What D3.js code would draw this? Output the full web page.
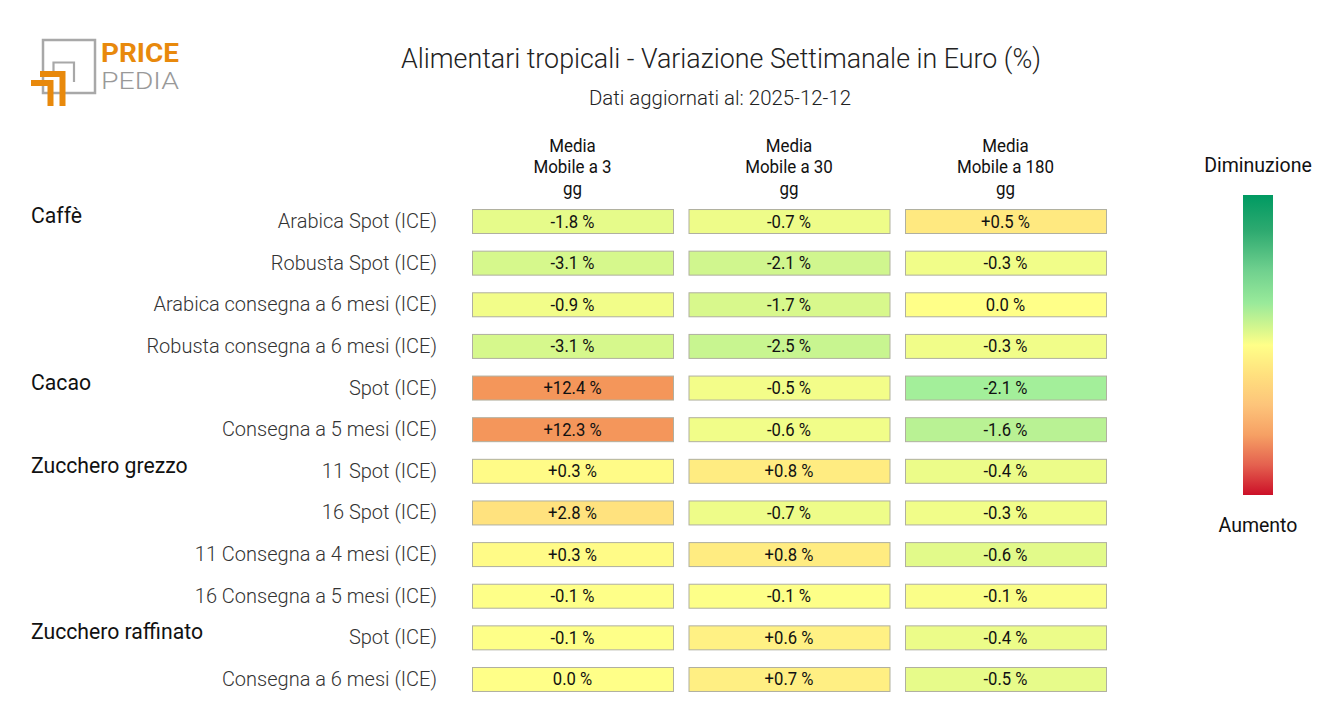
<!DOCTYPE html>
<html><head><meta charset="utf-8">
<script src="https://cdn.jsdelivr.net/npm/d3@7"></script>
<style>
html,body{margin:0;padding:0;background:#fff;}
svg{display:block;font-family:Roboto,"Noto Sans",sans-serif;}
</style></head>
<body>
<svg id="chart" width="1320" height="720"></svg>
<script>
const title = "Alimentari tropicali - Variazione Settimanale in Euro (%)";
const subtitle = "Dati aggiornati al: 2025-12-12";
const columnHeaders = [["Media","Mobile a 3","gg"],["Media","Mobile a 30","gg"],["Media","Mobile a 180","gg"]];
const groups = ["Caffè","Cacao","Zucchero grezzo","Zucchero raffinato"];
const groupStartRow = [0,4,6,10];
const rowLabels = ["Arabica Spot (ICE)","Robusta Spot (ICE)","Arabica consegna a 6 mesi (ICE)","Robusta consegna a 6 mesi (ICE)",
  "Spot (ICE)","Consegna a 5 mesi (ICE)",
  "11 Spot (ICE)","16 Spot (ICE)","11 Consegna a 4 mesi (ICE)","16 Consegna a 5 mesi (ICE)",
  "Spot (ICE)","Consegna a 6 mesi (ICE)"];
const ma3   = [-1.8,-3.1,-0.9,-3.1,12.4,12.3,0.3,2.8,0.3,-0.1,-0.1,0.0];
const ma30  = [-0.7,-2.1,-1.7,-2.5,-0.5,-0.6,0.8,-0.7,0.8,-0.1,0.6,0.7];
const ma180 = [0.5,-0.3,0.0,-0.3,-2.1,-1.6,-0.4,-0.3,-0.6,-0.1,-0.4,-0.5];
const legendTop = "Diminuzione", legendBottom = "Aumento";

const series = [ma3, ma30, ma180];
const colExtent = [26, 15, 7.5];   // colour scale half-range of each column

// normalized colour scale (t in [-1,1]; negative = decrease = green)
const cellT =     [-1, -0.5, -0.28, -0.16, -0.08, 0, 0.04, 0.06, 0.11, 0.48, 1];
const cellColor = ["#009a62","#6fd48f","#a3ef9a","#caf58f","#e2fa8a","#ffff88","#fff184","#ffea80","#ffe27e","#f4955a","#cc1028"];
const legendOff = [0, 0.12, 0.25, 0.36, 0.44, 0.5, 0.6, 0.7, 0.8, 0.9, 1];
const legendCol = ["#009a62","#2eaa70","#6fd08e","#99ea9a","#d2f68e","#ffff88","#ffe07e","#fdc47a","#f6a064","#e4614f","#cc1028"];

const svg = d3.select("#chart");

// logo
const logo = svg.append("g");
logo.append("rect").attr("x",43).attr("y",40).attr("width",52).attr("height",53)
  .attr("fill","none").attr("stroke","#a8a8a8").attr("stroke-width",2.5);
logo.append("path").attr("d","M53.5,71 V62.5 H74 V82").attr("fill","none").attr("stroke","#a8a8a8").attr("stroke-width",2.2);
logo.append("path").attr("d","M40,71 H65.5 V106 H59.5 V77 H40 Z").attr("fill","#e8890c");
logo.append("path").attr("d","M31,80 H53.5 V106 H47.5 V86 H31 Z").attr("fill","#e8890c");
logo.append("text").attr("x",101).attr("y",62).attr("font-size",26).attr("font-weight",700)
  .attr("fill","#e8890c").attr("textLength",78).attr("lengthAdjust","spacingAndGlyphs").text("PRICE");
logo.append("text").attr("x",101).attr("y",89).attr("font-size",23).attr("font-weight",300)
  .attr("fill","#999").attr("textLength",78).attr("lengthAdjust","spacingAndGlyphs").text("PEDIA");

// titles
svg.append("text").attr("x",721).attr("y",68).attr("text-anchor","middle")
  .attr("font-size",26.8).attr("font-weight",300).attr("fill","#222").text(title);
svg.append("text").attr("x",720).attr("y",105).attr("text-anchor","middle")
  .attr("font-size",20.4).attr("font-weight",300).attr("fill","#222").text(subtitle);

// scales
const x = d3.scaleBand().domain(d3.range(series.length)).range([464.25,1113.75])
  .paddingInner(0.0716).paddingOuter(0.0358);
const y = d3.scaleBand().domain(d3.range(rowLabels.length)).range([200.2,699.8])
  .paddingInner(0.424).paddingOuter(0.212);
const tScale = d3.scaleLinear().domain(cellT).range(cellColor).interpolate(d3.interpolateRgb).clamp(true);
const colorFor = (v,c) => tScale(v/colExtent[c]);
const fmt = v => (v > 0 ? "+" : v < 0 ? "-" : "") + Math.abs(v).toFixed(1) + " %";

// column headers
columnHeaders.forEach((lines,c) => {
  const t = svg.append("text").attr("text-anchor","middle").attr("font-size",18)
    .attr("fill","#111").attr("transform",`translate(${x(c)+x.bandwidth()/2},0) scale(0.94,1)`);
  lines.forEach((l,i) => t.append("tspan").attr("x",0).attr("y",152+i*21.3).text(l));
});

// row labels
svg.append("g").selectAll("text").data(rowLabels).join("text")
  .attr("x",437).attr("y",(d,i)=>y(i)+y.bandwidth()/2+7)
  .attr("text-anchor","end").attr("font-size",20).attr("font-weight",300).attr("fill","#333")
  .text(d=>d);

// group labels
svg.append("g").selectAll("text").data(groups).join("text")
  .attr("x",31).attr("y",(d,i)=>y(groupStartRow[i])+y.bandwidth()/2+2)
  .attr("font-size",21.2).attr("font-weight",400).attr("fill","#111")
  .text(d=>d);

// cells
const cells = [];
series.forEach((s,c) => s.forEach((v,r) => cells.push({c,r,v})));
const cg = svg.append("g").selectAll("g").data(cells).join("g");
cg.append("rect")
  .attr("x",d=>x(d.c)+0.5).attr("y",d=>y(d.r)+0.5)
  .attr("width",x.bandwidth()).attr("height",y.bandwidth())
  .attr("fill",d=>colorFor(d.v,d.c)).attr("stroke","#b0b0a0").attr("stroke-width",1);
cg.append("text")
  .attr("transform",d=>`translate(${x(d.c)+x.bandwidth()/2},${y(d.r)+y.bandwidth()/2+6.5}) scale(0.9,1)`)
  .attr("text-anchor","middle").attr("font-size",18.5).attr("fill","#111")
  .text(d=>fmt(d.v));

// legend
const defs = svg.append("defs");
const grad = defs.append("linearGradient").attr("id","lg").attr("x1",0).attr("y1",0).attr("x2",0).attr("y2",1);
grad.selectAll("stop").data(legendOff).join("stop")
  .attr("offset",d=>d).attr("stop-color",(d,i)=>legendCol[i]);
svg.append("rect").attr("x",1243).attr("y",195).attr("width",30).attr("height",300).attr("fill","url(#lg)");
svg.append("text").attr("x",1258).attr("y",172).attr("text-anchor","middle").attr("font-size",19.5)
  .attr("fill","#111").text(legendTop);
svg.append("text").attr("x",1258).attr("y",532).attr("text-anchor","middle").attr("font-size",19.5)
  .attr("fill","#111").text(legendBottom);
</script>
</body></html>
